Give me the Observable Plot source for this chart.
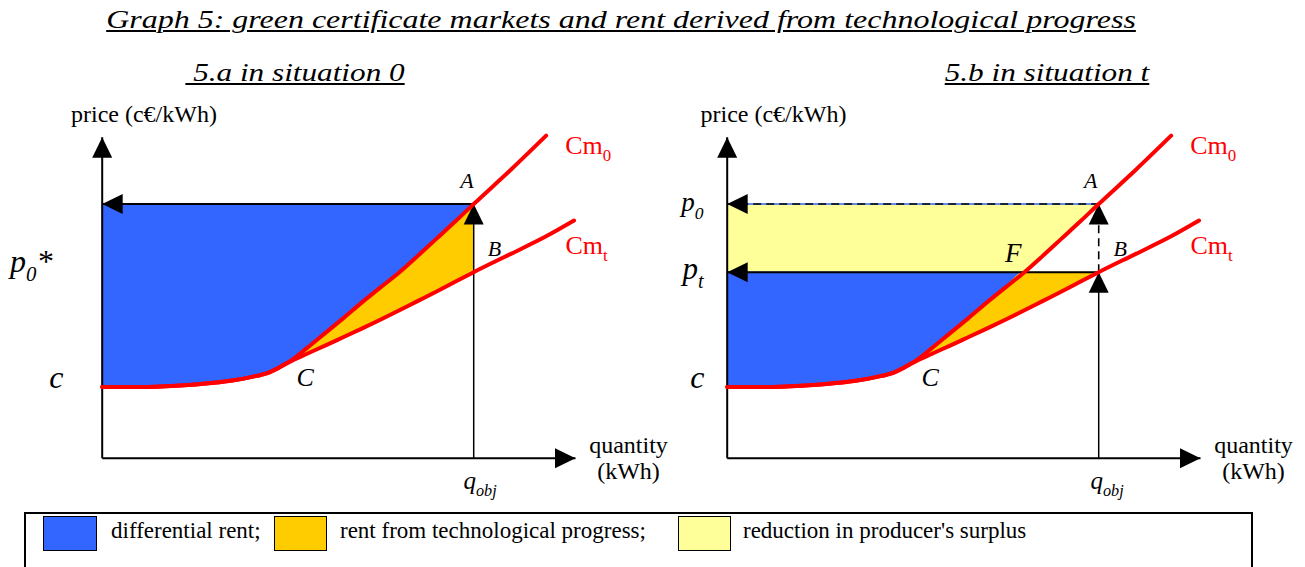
<!DOCTYPE html>
<html><head><meta charset="utf-8">
<script src="https://cdn.jsdelivr.net/npm/d3@7"></script>
<script src="https://cdn.jsdelivr.net/npm/@observablehq/plot@0.6"></script>
<style>
html,body{margin:0;padding:0;background:#fff;}
#page{position:relative;width:1305px;height:567px;overflow:hidden;font-family:"Liberation Serif",serif;color:#000;}
.head{position:absolute;white-space:pre;font-style:italic;font-size:26px;line-height:26px;text-decoration:underline;text-decoration-thickness:2px;text-underline-offset:2px;transform-origin:50% 50%;}
#legend{position:absolute;left:24px;top:512px;width:1229px;height:80px;border:2px solid #000;box-sizing:border-box;}
.sw{position:absolute;top:515.5px;width:53.5px;height:35px;box-sizing:border-box;border:1.5px solid #000;}
.lt{position:absolute;top:519px;font-size:23px;line-height:23px;white-space:pre;}
</style></head>
<body><div id="page">
<div class="head" id="title" style="left:621px;top:7.2px;transform:translateX(-50%) scaleX(1.23);">Graph 5: green certificate markets and rent derived from technological progress</div>
<div class="head" id="subA" style="left:295px;top:59.9px;transform:translateX(-50%) scaleX(1.2);">&nbsp;5.a in situation 0</div>
<div class="head" id="subB" style="left:1047px;top:59.9px;transform:translateX(-50%) scaleX(1.2);">5.b in situation t</div>
<div id="legend"></div>
<div class="sw" style="left:43.3px;background:#3366FF"></div>
<div class="lt" style="left:111px">differential rent;</div>
<div class="sw" style="left:273.5px;background:#FFCC00"></div>
<div class="lt" style="left:340px">rent from technological progress;</div>
<div class="sw" style="left:677.5px;background:#FFFF99"></div>
<div class="lt" style="left:743px">reduction in producer's surplus</div>
</div>
<script>
// ---- data (quantity and price in diagram units) ----
const quantity = [0, 1, 2, 3, 3.5, 4, 4.5, 5, 5.5, 6, 6.5, 7, 7.5, 8, 8.5, 9, 9.5, 10, 11, 11.95, 12.7];
const cm0 =      [2.80, 2.80, 2.85, 2.97, 3.06, 3.19, 3.38, 3.76, 4.32, 4.92, 5.52, 6.14, 6.73, 7.32, 7.97, 8.64, 9.31, 10.0, 11.35, 12.69, null];
const cmt =      [2.80, 2.80, 2.85, 2.97, 3.06, 3.19, 3.38, 3.76, 4.10, 4.43, 4.77, 5.11, 5.46, 5.82, 6.19, 6.56, 6.94, 7.32, 8.04, 8.73, 9.35];
const p0 = 10;          // p0 (and p0*)
const pt = 7.32;        // pt
const qobj = 10;        // q_obj
const cLevel = 2.80;    // c
const qDiverge = 4.5;   // Cm_t still on Cm_0 here
const qC = 5;           // point C
const qF = 8;           // point F (Cm_0 = pt)
const axisQmax = 12.74; // end of quantity axis
const axisPmax = 12.63; // end of price axis

const BLUE = "#3366FF", ORANGE = "#FFCC00", YELLOW = "#FFFF99", RED = "#FF0000";
const FONT = "'Liberation Serif', serif";

const rows = quantity.map((q, i) => ({q, cm0: cm0[i], cmt: cmt[i]}));
const cm0Rows = rows.filter(d => d.cm0 != null);
const within = rows.filter(d => d.q <= qobj);
const split = within.filter(d => d.q >= qDiverge);
const lastCm0 = cm0Rows[cm0Rows.length - 1];
const lastCmt = rows[rows.length - 1];
const cm0At = q => rows.find(d => d.q === q).cm0;
const cmtAt = q => rows.find(d => d.q === q).cmt;

// arrowhead symbols with the tip at the dot position
const L = 20.5, W = 10;
const head = dir => ({draw(ctx) {
  ctx.moveTo(0, 0);
  if (dir === "up") { ctx.lineTo(W, L); ctx.lineTo(-W, L); }
  if (dir === "left") { ctx.lineTo(L, -W); ctx.lineTo(L, W); }
  if (dir === "right") { ctx.lineTo(-L, -W); ctx.lineTo(-L, W); }
  ctx.closePath();
}});
const arrow = (pt2, dir) => Plot.dot([pt2], {symbol: head(dir), fill: "black", stroke: "none", r: 5});
const seg = (a, b, o = {}) => Plot.line([a, b], {stroke: "black", strokeWidth: 2, strokeLinecap: "butt", ...o});
const label = (str, x, y, o) => Plot.text([str], {x: () => x, y: () => y, text: d => d, lineAnchor: "bottom",
  fontFamily: FONT, ...o});

function panel(right) {
  const marks = [];
  if (!right) {
    marks.push(Plot.areaY(within, {x: "q", y1: "cm0", y2: () => p0, fill: BLUE, curve: "monotone-x"}));
    marks.push(Plot.areaY(split, {x: "q", y1: "cmt", y2: "cm0", fill: ORANGE, curve: "monotone-x"}));
  } else {
    marks.push(Plot.areaY(within, {x: "q", y1: "cm0", y2: () => p0, fill: YELLOW, curve: "monotone-x"}));
    marks.push(Plot.areaY(within, {x: "q", y1: d => Math.min(d.cm0, pt), y2: () => pt, fill: BLUE, curve: "monotone-x"}));
    marks.push(Plot.areaY(split, {x: "q", y1: "cmt", y2: d => Math.min(d.cm0, pt), fill: ORANGE, curve: "monotone-x"}));
    marks.push(seg([0, p0], [qobj, p0], {stroke: BLUE, strokeWidth: 1.5}));
  }
  // axes
  marks.push(seg([0, 0], [axisQmax, 0]));
  marks.push(seg([0, 0], [0, axisPmax]));
  if (!right) {
    marks.push(seg([0, p0], [qobj, p0]));
    marks.push(seg([qobj, 0], [qobj, p0], {strokeWidth: 1.5}));
  } else {
    marks.push(seg([0, p0], [qobj, p0], {strokeWidth: 1.6, strokeDasharray: "8,5"}));
    marks.push(seg([0, pt], [qobj, pt]));
    marks.push(seg([qobj, 0], [qobj, pt], {strokeWidth: 1.5}));
    marks.push(seg([qobj, pt], [qobj, p0], {strokeWidth: 1.6, strokeDasharray: "8,5"}));
  }
  marks.push(arrow([axisQmax, 0], "right"), arrow([0, axisPmax], "up"), arrow([0, p0], "left"), arrow([qobj, p0], "up"));
  if (right) marks.push(arrow([0, pt], "left"), arrow([qobj, pt], "up"));
  // marginal cost curves
  marks.push(Plot.line(rows, {x: "q", y: "cmt", stroke: RED, strokeWidth: 4, curve: "monotone-x"}));
  marks.push(Plot.line(cm0Rows, {x: "q", y: "cm0", stroke: RED, strokeWidth: 4, curve: "monotone-x"}));
  // labels
  marks.push(label("price (c€/kWh)", 0, axisPmax, {textAnchor: "start", dx: right ? -26.7 : -31.2, dy: -15.7, fontSize: 24}));
  if (!right) {
    marks.push(label("p_{0}*", 0, p0, {textAnchor: "end", dx: -49.7, dy: 67.5, fontSize: 32, fontStyle: "italic"}));
    marks.push(label("c", 0, cLevel, {textAnchor: "end", dx: -38.7, dy: 1, fontSize: 32, fontStyle: "italic"}));
  } else {
    marks.push(label("p_{0}", 0, p0, {textAnchor: "end", dx: -23.7, dy: 6.5, fontSize: 27, fontStyle: "italic"}));
    marks.push(label("p_{t}", 0, pt, {textAnchor: "end", dx: -23.7, dy: 6.8, fontSize: 31, fontStyle: "italic"}));
    marks.push(label("c", 0, cLevel, {textAnchor: "end", dx: -22.7, dy: 1, fontSize: 32, fontStyle: "italic"}));
    marks.push(label("F", qF, pt, {textAnchor: "end", dx: -3, dy: -10, fontSize: 27, fontStyle: "italic"}));
  }
  marks.push(label("A", qobj, p0, {textAnchor: "end", dx: right ? -1.3 : 0, dy: -16.5, fontSize: 22, fontStyle: "italic"}));
  marks.push(label("B", qobj, cmtAt(qobj), {textAnchor: "start", dx: right ? 14.7 : 14, dy: -16.6, fontSize: 22, fontStyle: "italic"}));
  marks.push(label("C", qC, cm0At(qC), {textAnchor: "start", dx: 8.5, dy: 23, fontSize: 26, fontStyle: "italic"}));
  marks.push(label("Cm_{0}", lastCm0.q, lastCm0.cm0, {textAnchor: "start", dx: 19, dy: 18, fontSize: 26, fill: RED}));
  marks.push(label("Cm_{t}", lastCmt.q, lastCmt.cmt, {textAnchor: "start", dx: -8.6, dy: 33, fontSize: 26, fill: RED}));
  marks.push(label("quantity\n(kWh)", axisQmax, 0, {textAnchor: "middle", dx: 53, dy: 20.3, fontSize: 24, lineHeight: 1.08}));
  marks.push(label("q_{obj}", qobj, 0, {textAnchor: "start", dx: right ? -8.3 : -10.3, dy: 30.3, fontSize: 25, fontStyle: "italic"}));

  return Plot.plot({
    width: 680, height: 415,
    margin: 0,
    x: {domain: [0, axisQmax], range: [101.7, 575], axis: null},
    y: {domain: [0, axisPmax], range: [367.7, 46.7], axis: null},
    style: {background: "transparent", overflow: "visible", fontFamily: FONT},
    marks
  });
}

function richify(svg) {
  svg.querySelectorAll("text").forEach(t => {
    const s = t.textContent;
    if (!s.includes("_{")) return;
    const F = parseFloat(getComputedStyle(t).fontSize);
    const shift = 0.3 * F;
    const parts = s.split(/(_\{[^}]*\})/).filter(p => p !== "");
    t.textContent = "";
    let down = false;
    for (const p of parts) {
      const ts = document.createElementNS("http://www.w3.org/2000/svg", "tspan");
      if (p.startsWith("_{")) {
        ts.textContent = p.slice(2, -1);
        ts.setAttribute("font-size", (0.65 * F) + "px");
        ts.setAttribute("dy", shift + "px");
        down = true;
      } else {
        ts.textContent = p;
        if (down) { ts.setAttribute("dy", (-shift) + "px"); down = false; }
      }
      t.appendChild(ts);
    }
  });
}

const page = document.getElementById("page");
const left = panel(false);
left.style.position = "absolute"; left.style.left = "0px"; left.style.top = "90px";
const rightSvg = panel(true);
rightSvg.style.position = "absolute"; rightSvg.style.left = "625px"; rightSvg.style.top = "90px";
page.appendChild(left);
page.appendChild(rightSvg);
richify(left); richify(rightSvg);
</script>
</body></html>
